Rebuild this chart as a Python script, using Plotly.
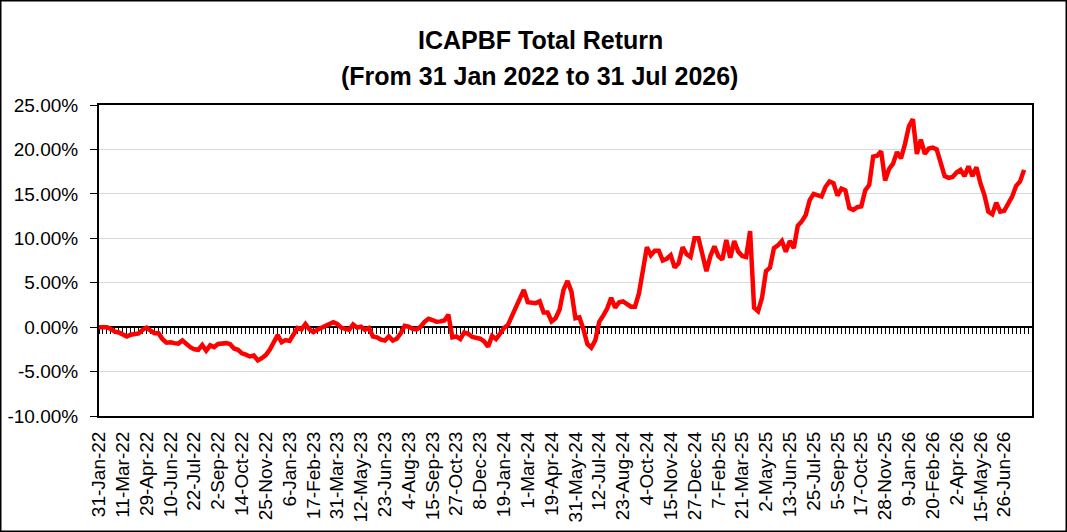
import plotly.graph_objects as go

# ---------------- data ----------------
tick_labels = [
    "31-Jan-22", "11-Mar-22", "29-Apr-22", "10-Jun-22", "22-Jul-22", "2-Sep-22",
    "14-Oct-22", "25-Nov-22", "6-Jan-23", "17-Feb-23", "31-Mar-23", "12-May-23",
    "23-Jun-23", "4-Aug-23", "15-Sep-23", "27-Oct-23", "8-Dec-23", "19-Jan-24",
    "1-Mar-24", "19-Apr-24", "31-May-24", "12-Jul-24", "23-Aug-24", "4-Oct-24",
    "15-Nov-24", "27-Dec-24", "7-Feb-25", "21-Mar-25", "2-May-25", "13-Jun-25",
    "25-Jul-25", "5-Sep-25", "17-Oct-25", "28-Nov-25", "9-Jan-26", "20-Feb-26",
    "2-Apr-26", "15-May-26", "26-Jun-26",
]
label_every = 6  # one label every 6 weekly points

# weekly total return, percent
total_return = [
    0.00, 0.00, -0.02, -0.20, -0.50, -0.60, -0.90, -1.05, -0.85, -0.75,
    -0.70, -0.30, -0.05, -0.40, -0.70, -0.70, -1.35, -1.75, -1.70, -1.80,
    -1.85, -1.50, -1.90, -2.25, -2.50, -2.55, -2.00, -2.65, -2.05, -2.25,
    -1.90, -1.80, -1.80, -1.90, -2.40, -2.55, -2.95, -3.10, -3.30, -3.20,
    -3.75, -3.50, -3.15, -2.55, -1.60, -0.90, -1.70, -1.45, -1.55, -0.70,
    -0.10, -0.25, 0.35, -0.25, -0.55, -0.30, -0.10, 0.05, 0.30, 0.55,
    0.35, -0.05, -0.20, -0.30, 0.30, -0.05, 0.05, -0.30, -0.10, -1.05,
    -1.15, -1.40, -1.50, -1.05, -1.50, -1.30, -0.70, 0.15, 0.05, -0.20,
    -0.25, 0.05, 0.60, 0.95, 0.80, 0.60, 0.65, 0.75, 1.40, -1.15,
    -1.05, -1.35, -0.60, -0.75, -1.10, -1.20, -1.30, -1.60, -2.20, -1.00,
    -1.35, -0.75, -0.10, 0.25, 1.30, 2.05, 3.10, 4.20, 2.80, 2.70,
    2.70, 2.90, 1.65, 1.65, 0.65, 1.00, 1.95, 4.20, 5.20, 4.00,
    1.00, 1.10, -0.20, -1.90, -2.30, -1.50, 0.60, 1.30, 2.10, 3.30,
    2.20, 2.80, 2.90, 2.60, 2.30, 2.30, 3.80, 6.40, 9.00, 8.10,
    8.60, 8.60, 7.50, 7.70, 8.10, 6.70, 7.20, 9.00, 8.20, 7.90,
    10.00, 10.00, 8.20, 6.30, 8.00, 9.10, 8.00, 7.60, 9.80, 7.80,
    9.70, 8.50, 8.00, 7.90, 10.80, 2.20, 1.80, 3.30, 6.30, 6.70,
    8.90, 9.20, 9.70, 8.50, 9.70, 8.90, 11.40, 11.90, 12.60, 14.30,
    15.00, 14.90, 14.70, 15.80, 16.40, 16.20, 14.80, 15.60, 15.40, 13.40,
    13.20, 13.50, 13.60, 15.40, 16.00, 19.20, 19.30, 19.80, 16.50, 17.80,
    18.40, 19.70, 19.00, 20.60, 22.60, 23.40, 19.50, 21.10, 19.50, 20.10,
    20.20, 20.00, 18.60, 17.00, 16.80, 16.90, 17.40, 17.70, 17.00, 18.10,
    17.00, 18.00, 16.20, 14.90, 13.00, 12.70, 14.00, 13.00, 13.10, 13.80,
    14.70, 15.90, 16.40, 17.70,
]

y_ticks = [-10, -5, 0, 5, 10, 15, 20, 25]
y_tick_text = ["%.2f%%" % v for v in y_ticks]

title_line1 = "ICAPBF Total Return"
title_line2 = "(From 31 Jan 2022 to 31 Jul 2026)"

# ---------------- figure ----------------
W, H = 1067, 532
ML, MR, MT, MB = 99, 35, 105, 116
PW, PH = W - ML - MR, H - MT - MB

x_idx = list(range(len(total_return)))
tick_pos = [i * label_every for i in range(len(tick_labels))]
x_range = [0, 235]
y_range = [y_ticks[0], y_ticks[-1]]

FONT = "Liberation Sans, Arial, sans-serif"

fig = go.Figure()
fig.add_trace(go.Scatter(
    x=x_idx, y=total_return, mode="lines",
    line=dict(color="#FF0000", width=4.5),
    showlegend=False, hoverinfo="skip",
))
# invisible trace to carry the zero-crossing category axis
fig.add_trace(go.Scatter(
    x=x_idx, y=total_return, mode="lines", xaxis="x2",
    line=dict(color="rgba(0,0,0,0)", width=0),
    showlegend=False, hoverinfo="skip",
))

zero_pos = (0 - y_range[0]) / (y_range[1] - y_range[0])

fig.update_layout(
    width=W, height=H,
    margin=dict(l=ML, r=MR, t=MT, b=MB, pad=0),
    paper_bgcolor="white", plot_bgcolor="white",
    font=dict(family=FONT, color="black", size=19),
    xaxis=dict(
        range=x_range, tickmode="array", tickvals=tick_pos, ticktext=tick_labels,
        tickangle=-90, ticks="", showgrid=False, zeroline=False,
        showline=True, linecolor="black", linewidth=2, mirror=True,
        tickfont=dict(size=19, family=FONT, color="black"),
        ticklabelstandoff=6, automargin=False,
    ),
    xaxis2=dict(
        range=x_range, overlaying="x", anchor="free", position=zero_pos,
        side="bottom", tickmode="linear", tick0=0, dtick=1,
        ticks="outside", ticklen=6, tickwidth=1, tickcolor="black",
        showticklabels=False, showgrid=False, zeroline=False,
        showline=True, linecolor="black", linewidth=1.5,
        layer="below traces",
    ),
    yaxis=dict(
        range=y_range, tickmode="array", tickvals=y_ticks, ticktext=y_tick_text,
        ticks="outside", ticklen=7, tickwidth=1, tickcolor="black",
        showgrid=True, gridcolor="#D9D9D9", gridwidth=1, zeroline=False,
        showline=True, linecolor="black", linewidth=2, mirror=True,
        tickfont=dict(size=19, family=FONT, color="black"),
        ticklabelstandoff=8, automargin=False,
    ),
    annotations=[
        dict(text="<b>%s</b>" % title_line1, xref="paper", yref="paper",
             x=(540 - ML) / PW, y=(H - MB - 40) / PH, xanchor="center", yanchor="middle",
             showarrow=False, font=dict(size=25, family=FONT, color="black")),
        dict(text="<b>%s</b>" % title_line2, xref="paper", yref="paper",
             x=(539 - ML) / PW, y=(H - MB - 76) / PH, xanchor="center", yanchor="middle",
             showarrow=False, font=dict(size=25, family=FONT, color="black")),
    ],
    shapes=[
        dict(type="rect", xref="paper", yref="paper",
             x0=(-ML + 0.75) / PW, x1=(PW + MR - 0.75) / PW,
             y0=(-MB + 0.75) / PH, y1=(PH + MT - 0.75) / PH,
             line=dict(color="black", width=1.5), fillcolor="rgba(0,0,0,0)",
             layer="above"),
    ],
)

fig.write_html(
    "out.html",
    config={"displayModeBar": False},
    post_script="document.body.style.margin='0';document.body.style.overflow='hidden';",
)
